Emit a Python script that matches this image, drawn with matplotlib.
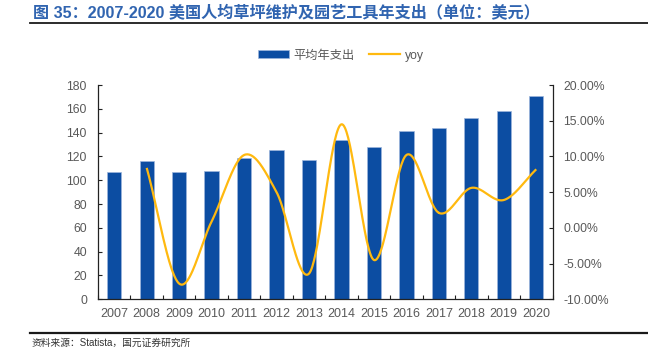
import numpy as np
import matplotlib
matplotlib.use("Agg")
import matplotlib.pyplot as plt
from matplotlib.lines import Line2D
from matplotlib.patches import Patch

plt.rcParams['font.family'] = ['Liberation Sans', 'Noto Sans CJK SC', 'DejaVu Sans']

# Data
years = ['2007', '2008', '2009', '2010', '2011', '2012', '2013',
         '2014', '2015', '2016', '2017', '2018', '2019', '2020']
spending = [107, 116, 107, 108, 119, 125, 117, 134, 128, 141, 144, 152, 158, 171]
yoy_years = years[1:]
yoy_pct = [8.4, -7.8, 0.9, 10.2, 5.0, -6.4, 14.5, -4.5, 10.2, 2.1, 5.6, 3.9, 8.2]

title = '图 35：2007-2020 美国人均草坪维护及园艺工具年支出（单位：美元）'
source = '资料来源：Statista，国元证券研究所'
bar_label = '平均年支出'
line_label = 'yoy'

BAR_COLOR = '#0C4DA2'
LINE_COLOR = '#FFB90F'
TEXT_GRAY = '#595959'
TITLE_BLUE = '#3064B0'

W, H = 648, 350
fig = plt.figure(figsize=(W / 100, H / 100), dpi=100)

left, right, bottom, top = 98, 552.5, 299.3, 85
ax = fig.add_axes([left / W, 1 - bottom / H, (right - left) / W, (bottom - top) / H])

x = np.arange(len(years))
ax.bar(x, spending, width=0.44, color=BAR_COLOR, edgecolor='#9DB6DC',
       linewidth=0.5, zorder=2)
ax.set_xlim(-0.5, len(years) - 0.5)
ax.set_ylim(0, 180)
ax.set_yticks(np.arange(0, 181, 20))
ax.set_xticks(x)
ax.set_xticklabels(years)
ax.set_xticks(np.arange(-0.5, len(years), 1.0), minor=True)
ax.tick_params(axis='x', which='major', length=0, pad=6.5, labelsize=9, labelcolor=TEXT_GRAY)
ax.tick_params(axis='x', which='minor', direction='in', length=3, width=0.8, color='#222222')
ax.tick_params(axis='y', direction='in', length=3, width=0.8, color='#222222',
               pad=8, labelsize=8.8, labelcolor=TEXT_GRAY)
for s in ['top', 'right']:
    ax.spines[s].set_visible(False)
for s in ['left', 'bottom']:
    ax.spines[s].set_color('#222222')
    ax.spines[s].set_linewidth(0.9)

# Smoothed yoy line (Catmull-Rom through the yearly points)
ax2 = ax.twinx()
xp = np.arange(1, len(years), dtype=float)
yp = np.array(yoy_pct, dtype=float)
px = np.concatenate([[2 * xp[0] - xp[1]], xp, [2 * xp[-1] - xp[-2]]])
py = np.concatenate([[2 * yp[0] - yp[1]], yp, [2 * yp[-1] - yp[-2]]])
sx, sy = [], []
t = np.linspace(0, 1, 40)
for i in range(1, len(px) - 2):
    for arr, out in ((px, sx), (py, sy)):
        p0, p1, p2, p3 = arr[i - 1], arr[i], arr[i + 1], arr[i + 2]
        seg = 0.5 * ((2 * p1) + (-p0 + p2) * t + (2 * p0 - 5 * p1 + 4 * p2 - p3) * t ** 2
                     + (-p0 + 3 * p1 - 3 * p2 + p3) * t ** 3)
        out.extend(seg)
ax2.plot(sx, sy, color=LINE_COLOR, linewidth=1.6, zorder=3, solid_capstyle='butt')
ax2.set_ylim(-10, 20)
ax2.set_yticks(np.arange(-10, 20.1, 5))
ax2.set_yticklabels([f'{v:.2f}%' for v in np.arange(-10, 20.1, 5)])
ax2.tick_params(axis='y', direction='in', length=3, width=0.8, color='#222222',
                pad=8, labelsize=8.8, labelcolor=TEXT_GRAY)
for s in ['top', 'left', 'bottom']:
    ax2.spines[s].set_visible(False)
ax2.spines['right'].set_color('#222222')
ax2.spines['right'].set_linewidth(0.9)

# Legend
handles = [Patch(facecolor=BAR_COLOR, edgecolor='#9DB6DC', linewidth=0.5),
           Line2D([], [], color=LINE_COLOR, linewidth=1.6)]
fig.legend(handles, [bar_label, line_label], loc='center', ncol=2,
           bbox_to_anchor=(341 / W, 1 - 55.5 / H), frameon=False,
           fontsize=8.8, labelcolor=TEXT_GRAY, handlelength=2.5, handleheight=0.6,
           handletextpad=0.4, columnspacing=1.2)

# Title and source with rules
fig.text(33 / W, 1 - 12.5 / H, title, fontsize=11.6, fontweight='bold',
         color=TITLE_BLUE, va='center', ha='left')
fig.add_artist(Line2D([30 / W, 1], [1 - 22.8 / H] * 2, color='#1a1a1a', linewidth=1.3))
fig.add_artist(Line2D([30 / W, 1], [1 - 333 / H] * 2, color='#1a1a1a', linewidth=1.6))
fig.text(32 / W, 1 - 342.5 / H, source, fontsize=7, color='#333333',
         va='center', ha='left')

fig.savefig('out.png', dpi=100)
